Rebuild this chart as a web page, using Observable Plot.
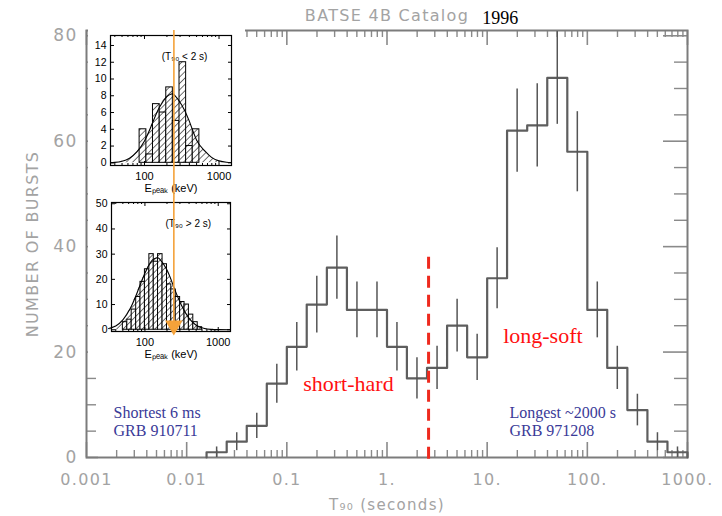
<!DOCTYPE html>
<html><head><meta charset="utf-8">
<script src="https://cdn.jsdelivr.net/npm/d3@7"></script>
<script src="https://cdn.jsdelivr.net/npm/@observablehq/plot@0.6"></script>
<style>
html,body{margin:0;padding:0;background:#fff;}
#wrap{position:relative;width:722px;height:516px;overflow:hidden;background:#fff;}
.abs{position:absolute;}
</style></head><body><div id="wrap"></div>
<script>
// ---------------- main histogram data (BATSE 4B, T90) ----------------
const binEdges = [0.0158, 0.0251, 0.0398, 0.0631, 0.1, 0.158, 0.251, 0.398, 0.631, 1, 1.58, 2.51, 3.98, 6.31, 10, 15.8, 25.1, 39.8, 63.1, 100, 158, 251, 398, 631, 1000];
const burstCounts = [1, 3, 6, 14, 21, 29, 36, 28, 28, 21, 15, 17, 25, 19, 34, 62, 63, 72, 58, 28, 17, 9, 3, 1];
const countErrors = [1, 1.7, 2.4, 3.7, 4.6, 5.4, 6, 5.3, 5.3, 4.6, 3.9, 4.1, 5, 4.4, 5.8, 7.9, 7.9, 8.8, 7.6, 5.3, 4.1, 3, 1.7, 1];
const xTickValues = [0.001, 0.01, 0.1, 1, 10, 100, 1000];
const xTickLabels = ["0.001", "0.01", "0.1", "1.", "10.", "100.", "1000."];
const yTickValues = [0, 20, 40, 60, 80];
const yMinorValues = [5, 10, 15, 25, 30, 35, 45, 50, 55, 65, 70, 75];
const splitT90 = 2.6;
const splitTop = 38;

// ---------------- inset data (Epeak distributions) ----------------
const shortEdges = [86, 106, 130, 160, 196, 240, 295, 362, 444, 545];
const shortCounts = [4, 1, 7, 6, 9, 5, 12, 2, 4];
const shortFitE = [35, 40, 50, 63, 79, 100, 126, 158, 200, 229, 251, 316, 398, 501, 631, 794, 1000, 1259, 1470];
const shortFitN = [0.02, 0.05, 0.19, 0.54, 1.3, 2.6, 4.6, 6.6, 7.9, 8.2, 8.1, 6.9, 5.0, 2.7, 1.5, 0.65, 0.23, 0.07, 0.03];
const longEdges = [50, 57.5, 66, 76, 87, 100, 115, 132, 151, 174, 200, 229, 263, 302, 347, 398, 457, 525, 603];
const longCounts = [3, 4, 8, 13, 19, 24, 30, 27, 30, 26, 18, 16, 13, 11, 10, 6, 3, 1];
const longFitE = [32, 40, 50, 63, 79, 100, 126, 145, 158, 200, 251, 316, 398, 501, 631, 794, 1000, 1470];
const longFitN = [0.46, 1.47, 3.9, 8.4, 15.0, 22.4, 27.6, 28.5, 28.1, 23.7, 16.5, 9.6, 4.6, 1.8, 0.6, 0.16, 0.04, 0.01];
const insetXTicks = [100, 1000];
const shortYTicks = [0, 2, 4, 6, 8, 10, 12, 14];
const longYTicks = [0, 10, 20, 30, 40, 50];
const orangeE = 248;

// ---------------- main chart ----------------
const W = 722, H = 516, mL = 86, mR = 35, mT = 30, mB = 59;
const FW = W - mL - mR, FH = H - mT - mB;
const bins = burstCounts.map((c, i) => ({lo: binEdges[i], hi: binEdges[i + 1], c, e: countErrors[i], mid: Math.sqrt(binEdges[i] * binEdges[i + 1])}));
const outline = [{x: binEdges[0], y: 0}, ...bins.map(b => ({x: b.lo, y: b.c})),
  {x: binEdges[binEdges.length - 1], y: burstCounts[burstCounts.length - 1]}, {x: binEdges[binEdges.length - 1], y: 0}];
const xMinor = [];
for (const d of xTickValues.slice(0, -1)) for (let k = 2; k <= 9; k++) xMinor.push(d * k);

const gray = "#a3a3a3";
const tickCol = "#8a8a8a";
const main = Plot.plot({
  width: W, height: H, marginLeft: mL, marginRight: mR, marginTop: mT, marginBottom: mB,
  x: {type: "log", domain: [0.001, 1000], axis: null},
  y: {domain: [0, 81], axis: null},
  style: {background: "white", overflow: "visible"},
  marks: [
    // ticks (inward)
    Plot.tickX(xTickValues, {x: d => d, insetTop: FH - 15, stroke: tickCol, strokeWidth: 1.6}),
    Plot.tickX(xMinor, {x: d => d, insetTop: FH - 7, stroke: tickCol, strokeWidth: 1.4}),
    Plot.tickX(xTickValues, {x: d => d, insetBottom: FH - 15, stroke: tickCol, strokeWidth: 1.6}),
    Plot.tickX(xMinor, {x: d => d, insetBottom: FH - 7, stroke: tickCol, strokeWidth: 1.4}),
    Plot.tickY(yTickValues, {y: d => d, insetRight: FW - 12, stroke: tickCol, strokeWidth: 1.6}),
    Plot.tickY(yMinorValues, {y: d => d, insetRight: FW - 10, stroke: tickCol, strokeWidth: 1.4}),
    Plot.tickY(yTickValues, {y: d => d, insetLeft: FW - 24, stroke: tickCol, strokeWidth: 1.6}),
    Plot.tickY(yMinorValues, {y: d => d, insetLeft: FW - 13, stroke: tickCol, strokeWidth: 1.4}),
    Plot.frame({stroke: "#7c7c7c", strokeWidth: 2}),
    // histogram outline and error bars
    Plot.line(outline, {x: "x", y: "y", curve: "step-after", stroke: "#5e5e5e", strokeWidth: 2.2}),
    Plot.ruleX(bins, {x: "mid", y1: d => d.c - d.e, y2: d => d.c + d.e, stroke: "#555", strokeWidth: 1.5}),
    // dividing line
    Plot.ruleX([splitT90], {x: d => d, y1: splitTop, y2: 0, insetBottom: -4, stroke: "#ee2a1e", strokeWidth: 3, strokeDasharray: "12,7"}),
    // tick labels
    Plot.text(xTickValues, {x: d => d, text: (d, i) => xTickLabels[i], frameAnchor: "bottom", dy: 22, lineAnchor: "middle", fill: gray, fontSize: 16, fontFamily: "DejaVu Sans"}),
    Plot.text(yTickValues, {y: d => d, text: d => String(d), frameAnchor: "left", textAnchor: "end", dx: -9, lineAnchor: "middle", fill: gray, fontSize: 17, fontFamily: "DejaVu Sans"}),
    Plot.text(["NUMBER OF BURSTS"], {frameAnchor: "left", textAnchor: "middle", dx: -54, rotate: -90, fill: gray, fontSize: 16, fontFamily: "DejaVu Sans", lineAnchor: "middle"}),
    Plot.text(["T\u2089\u2080 (seconds)"], {frameAnchor: "bottom", dy: 48, fill: gray, fontSize: 15, fontFamily: "DejaVu Sans", lineAnchor: "middle"}),
    Plot.text(["BATSE 4B Catalog"], {frameAnchor: "top", dy: -15, fill: gray, fontSize: 16, fontFamily: "DejaVu Sans", lineAnchor: "middle"}),
    Plot.text(["1996"], {x: () => 13.5, frameAnchor: "top", dy: -12, fill: "#000", fontSize: 18, fontFamily: "Liberation Serif", lineAnchor: "middle"}),
    // annotations
    Plot.text(["short-hard"], {x: () => 0.412, y: () => 14, fill: "#ff1010", fontSize: 22, fontFamily: "Liberation Serif", lineAnchor: "middle"}),
    Plot.text(["long-soft"], {x: () => 36, y: () => 23.1, fill: "#ff1010", fontSize: 22, fontFamily: "Liberation Serif", lineAnchor: "middle"}),
    Plot.text(["Shortest 6 ms", "GRB 910711"], {x: () => 0.00186, y: (d, i) => [8.5, 5.1][i], textAnchor: "start", fill: "#3a3a98", fontSize: 16, fontFamily: "Liberation Serif", lineAnchor: "middle"}),
    Plot.text(["Longest ~2000 s", "GRB 971208"], {x: () => 16.7, y: (d, i) => [8.5, 5.1][i], textAnchor: "start", fill: "#3a3a98", fontSize: 16, fontFamily: "Liberation Serif", lineAnchor: "middle"})
  ]
});
d3.select(main).selectAll(`g[fill="${gray}"] text`).attr("letter-spacing", "1.3px");
main.classList.add("abs");
main.style.left = "0px"; main.style.top = "0px";
document.getElementById("wrap").appendChild(main);

// white box behind insets
const box = document.createElement("div");
box.className = "abs";
Object.assign(box.style, {left: "88px", top: "26px", width: "157px", height: "342px", background: "#fff"});
document.getElementById("wrap").appendChild(box);

// ---------------- insets ----------------
const insetMinor = [];
for (const d of [10, 100]) for (let k = 2; k <= 9; k++) if (d * k >= 35 && d * k <= 1470) insetMinor.push(d * k);

function inset({edges, counts, fitE, fitN, yDomain, yTicks, label, labelE, labelN, patId, left, top, width, height, margins, orange}) {
  const [mt, mr, mb, ml] = margins;
  const fw = width - ml - mr, fh = height - mt - mb;
  const bars = counts.map((c, i) => ({x1: edges[i], x2: edges[i + 1], c}));
  const fit = fitE.map((e, i) => ({e, n: fitN[i]}));
  const hatch = `url(#${patId})`;
  const marks = [
    Plot.areaY(fit, {x: "e", y: "n", fill: hatch, curve: "natural"}),
    Plot.rectY(bars, {x1: "x1", x2: "x2", y1: 0, y2: "c", fill: hatch, stroke: "#000", strokeWidth: 1}),
    Plot.line(fit, {x: "e", y: "n", curve: "natural", stroke: "#000", strokeWidth: 1.1}),
    Plot.tickX(insetXTicks, {x: d => d, insetTop: fh - 4, stroke: "#000"}),
    Plot.tickX(insetMinor, {x: d => d, insetTop: fh - 2, stroke: "#000"}),
    Plot.tickX(insetXTicks, {x: d => d, insetBottom: fh - 4, stroke: "#000"}),
    Plot.tickX(insetMinor, {x: d => d, insetBottom: fh - 2, stroke: "#000"}),
    Plot.tickY(yTicks, {y: d => d, insetRight: fw - 4, stroke: "#000"}),
    Plot.tickY(yTicks, {y: d => d, insetLeft: fw - 3, stroke: "#000"}),
    Plot.frame({stroke: "#000", strokeWidth: 1.2}),
    Plot.text(insetXTicks, {x: d => d, text: d => String(d), frameAnchor: "bottom", dy: 11, lineAnchor: "middle", fontSize: 11, fontFamily: "Liberation Sans", fill: "#000"}),
    Plot.text(yTicks, {y: d => d, text: d => String(d), frameAnchor: "left", dx: -4, textAnchor: "end", lineAnchor: "middle", fontSize: 10.5, fontFamily: "Liberation Sans", fill: "#000"}),
    Plot.text(["E\u209a\u2091\u2090\u2096 (keV)"], {frameAnchor: "bottom", dy: 23, lineAnchor: "middle", fontSize: 11, fontFamily: "Liberation Sans", fill: "#000"}),
    Plot.text([label], {x: () => labelE, y: () => labelN, lineAnchor: "middle", fontSize: 10, fontFamily: "Liberation Sans", fill: "#000"})
  ];
  if (orange === "top") {
    marks.push(Plot.ruleX([orangeE], {x: d => d, insetTop: -(mt - 2), insetBottom: -mb, stroke: "#f4a23a", strokeWidth: 1.6}));
  } else {
    marks.push(Plot.ruleX([orangeE], {x: d => d, insetTop: -mt, insetBottom: 8, stroke: "#f4a23a", strokeWidth: 1.6}));
    marks.push(Plot.dot([orangeE], {x: d => d, frameAnchor: "bottom", dy: -6, symbol: "triangle", rotate: 180, r: 5.5, fill: "#f4a23a", stroke: "#f4a23a"}));
  }
  const p = Plot.plot({
    width, height, marginTop: mt, marginRight: mr, marginBottom: mb, marginLeft: ml,
    x: {type: "log", domain: [35, 1470], axis: null},
    y: {domain: yDomain, axis: null},
    style: {background: "transparent", overflow: "visible"},
    marks
  });
  d3.select(p).insert("defs", ":first-child").html(
    `<pattern id="${patId}" patternUnits="userSpaceOnUse" width="4.5" height="4.5" patternTransform="rotate(45)">` +
    `<rect width="4.5" height="4.5" fill="white"/><line x1="0" y1="0" x2="0" y2="4.5" stroke="#000" stroke-width="1.1"/></pattern>`);
  p.classList.add("abs");
  p.style.left = left + "px"; p.style.top = top + "px";
  document.getElementById("wrap").appendChild(p);
}

inset({edges: shortEdges, counts: shortCounts, fitE: shortFitE, fitN: shortFitN, yDomain: [-0.32, 15.19], yTicks: shortYTicks,
  label: "(T\u2089\u2080 < 2 s)", labelE: 345, labelN: 12.7, patId: "hatchS", left: 88, top: 28, width: 150, height: 170, margins: [7, 7, 33, 22], orange: "top"});
inset({edges: longEdges, counts: longCounts, fitE: longFitE, fitN: longFitN, yDomain: [-0.7, 50.5], yTicks: longYTicks,
  label: "(T\u2089\u2080 > 2 s)", labelE: 390, labelN: 42, patId: "hatchL", left: 88, top: 198, width: 150, height: 170, margins: [4, 8, 37, 23], orange: "bottom"});
</script></body></html>
